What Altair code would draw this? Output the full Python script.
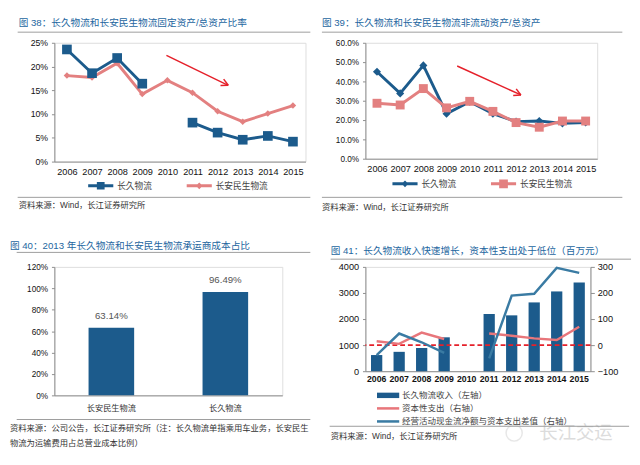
import math
import altair as alt
import pandas as pd

# ---------------- data ----------------
years = ["2006", "2007", "2008", "2009", "2010", "2011", "2012", "2013", "2014", "2015"]

t38 = "图 38：长久物流和长安民生物流固定资产/总资产比率"
f38_cj = [0.236, 0.186, 0.218, 0.164, None, 0.082, 0.061, 0.046, 0.054, 0.042]
f38_ca = [0.181, 0.177, 0.207, 0.142, 0.171, 0.145, 0.106, 0.084, 0.101, 0.118]

t39 = "图 39：长久物流和长安民生物流非流动资产/总资产"
f39_cj = [0.450, 0.338, 0.483, 0.233, 0.295, 0.233, 0.192, 0.195, 0.183, 0.187]
f39_ca = [0.287, 0.278, 0.363, 0.263, 0.297, 0.245, 0.187, 0.163, 0.195, 0.195]

t40 = "图 40：2013 年长久物流和长安民生物流承运商成本占比"
f40_cats = ["长安民生物流", "长久物流"]
f40_vals = [0.6314, 0.9649]

t41 = "图 41：长久物流收入快速增长，资本性支出处于低位（百万元）"
f41_rev = [620, 743, 892, 1300, None, 2192, 2142, 2638, 3059, 3405]
f41_capex = [15, 5, 48, 23.5, None, 44.6, 36, 26, 20, 70.6]
f41_diff = [-38, 44.6, 11, -30, None, -51, 190, 197, 296, 277]

names38 = ["长久物流", "长安民生物流"]
names41 = ["长久物流收入（左轴）", "资本性支出（右轴）", "经营活动现金流净额与资本支出差值（右轴）"]

src = "资料来源：Wind，长江证券研究所"
src40 = ["资料来源：公司公告，长江证券研究所（注：长久物流单指乘用车业务，长安民生",
         "物流为运输费用占总营业成本比例）"]
watermark = "长江交运"

# ---------------- style ----------------
FONT = "Liberation Sans, Noto Sans CJK SC"
BLUE = "#1C5B8C"
PINK = "#E38080"
PINK4 = "#E8767B"
TEAL = "#3A7BA3"
RED = "#E5202A"
TBLUE = "#2466A0"
AX = "#8C8C8C"
SEP = "#9A9A9A"
BW, BH = 312, 222

one = pd.DataFrame({"k": [0]})


def long(vals):
    rows = []
    for y, v in zip(years, vals):
        if v is None:
            continue
        rows.append({"year": y, "value": v, "seg": "a" if int(y) < 2010 else "b"})
    return pd.DataFrame(rows)


def txt(s, x, y, size=8.6, color="#333333", weight="normal", align="left"):
    return alt.Chart(pd.DataFrame({"t": [s]})).mark_text(
        align=align, baseline="middle", fontSize=size, color=color,
        fontWeight=weight, font=FONT).encode(x=alt.value(x), y=alt.value(y), text="t:N")


def seg(x1, y1, x2, y2, color, width=1.0):
    return alt.Chart(one).mark_rule(color=color, strokeWidth=width).encode(
        x=alt.value(x1), x2=alt.value(x2), y=alt.value(y1), y2=alt.value(y2))


def hline(x1, x2, y, color=SEP, width=1.0):
    return seg(x1, y, x2, y, color, width)


def arrow(x1, y1, x2, y2):
    ang = math.atan2(y2 - y1, x2 - x1)
    L, a = 8, math.radians(28)
    hx1, hy1 = x2 - L * math.cos(ang - a), y2 - L * math.sin(ang - a)
    hx2, hy2 = x2 - L * math.cos(ang + a), y2 - L * math.sin(ang + a)
    return [seg(x1, y1, x2, y2, RED, 1.5), seg(hx1, hy1, x2, y2, RED, 1.5),
            seg(hx2, hy2, x2, y2, RED, 1.5)]


def anchor(L, T):
    return alt.Chart(one).mark_rect(opacity=0).encode(
        x=alt.value(-L), x2=alt.value(BW - L), y=alt.value(-T), y2=alt.value(BH - T))


U = 6.0  # legend symbol unit (symbolSize 144)


def p_rect(hw, hh):
    w, h = hw / U, hh / U
    return f"M{-w:.3f},{-h:.3f}L{w:.3f},{-h:.3f}L{w:.3f},{h:.3f}L{-w:.3f},{h:.3f}Z"


def p_diam(h):
    s = h / U
    return f"M0,{-s:.3f}L{s:.3f},0L0,{s:.3f}L{-s:.3f},0Z"


def xaxis(**kw):
    base = dict(title=None, labelAngle=0, ticks=False, tickSize=0, domainColor=AX,
                labelFont=FONT, labelFontSize=9.5, labelColor="#111111",
                labelPadding=5, grid=False)
    base.update(kw)
    return alt.Axis(**base)


def yaxis(**kw):
    base = dict(title=None, grid=False, domainColor=AX, tickColor=AX, tickSize=3,
                labelPadding=4, labelFont=FONT, labelFontSize=9, labelColor="#111111")
    base.update(kw)
    return alt.Axis(**base)


def legend_layer(field, names, colors, shapes, lx, ly, direction, col_pad=0, row_pad=0,
                 label_offset=11, fs=9):
    lg = alt.Legend(title=None, orient="none", legendX=lx, legendY=ly, direction=direction,
                    symbolSize=144, symbolStrokeWidth=0, labelFont=FONT, labelFontSize=fs,
                    labelColor="#444444", labelOffset=label_offset, columnPadding=col_pad,
                    rowPadding=row_pad, padding=0, labelLimit=400)
    df = pd.DataFrame({field: names})
    return alt.Chart(df).transform_filter("false").mark_point(filled=True, opacity=1).encode(
        color=alt.Color(f"{field}:N", scale=alt.Scale(domain=names, range=colors), legend=lg),
        shape=alt.Shape(f"{field}:N", scale=alt.Scale(domain=names, range=shapes), legend=lg))


TW = "normal"  # title weight

# ---------------- panel 1 ----------------
L1, T1 = 38, 27
X1 = alt.X("year:O", scale=alt.Scale(domain=years, padding=0.5), axis=xaxis())
Y1 = alt.Y("value:Q", scale=alt.Scale(domain=[0, 0.25], nice=False),
           axis=yaxis(values=[0, 0.05, 0.10, 0.15, 0.20, 0.25], format=".0%"))
ca1 = alt.Chart(long(f38_ca)).encode(x=X1, y=Y1)
cj1 = alt.Chart(long(f38_cj)).encode(x=X1, y=Y1, detail="seg:N")
leg1 = legend_layer("s1", names38, [BLUE, PINK],
                    [p_rect(13, 1.5) + p_rect(4, 4), p_rect(13, 1.5) + p_diam(3.5)],
                    42, 142, "horizontal", col_pad=34)
p1 = alt.layer(
    anchor(L1, T1),
    ca1.mark_line(color=PINK, strokeWidth=3),
    ca1.mark_point(shape="diamond", filled=True, size=45, color=PINK, opacity=1),
    cj1.mark_line(color=BLUE, strokeWidth=3),
    cj1.mark_square(size=100, color=BLUE, opacity=1),
    leg1,
    txt(t38, -37, -20, size=10, color=TBLUE, weight=TW),
    hline(-38, 265, -11),
    hline(-38, 265, 160),
    txt(src, -37, 168),
    *arrow(116, 13, 180, 44),
).properties(width=260, height=123)

# ---------------- panel 2 ----------------
L2, T2 = 46, 27
X2 = alt.X("year:O", scale=alt.Scale(domain=years, padding=0.5), axis=xaxis(labelFontSize=9.5))
Y2 = alt.Y("value:Q", scale=alt.Scale(domain=[0, 0.6], nice=False),
           axis=yaxis(values=[0, 0.1, 0.2, 0.3, 0.4, 0.5, 0.6], format=".1%", labelFontSize=8.5))
cj2 = alt.Chart(long(f39_cj)).encode(x=X2, y=Y2)
ca2 = alt.Chart(long(f39_ca)).encode(x=X2, y=Y2)
leg2 = legend_layer("s2", names38, [BLUE, PINK],
                    [p_rect(13, 1.5) + p_diam(3.5), p_rect(13, 1.5) + p_rect(4.5, 4.5)],
                    35, 140, "horizontal", col_pad=34)
p2 = alt.layer(
    anchor(L2, T2),
    cj2.mark_line(color=BLUE, strokeWidth=3),
    cj2.mark_point(shape="diamond", filled=True, size=70, color=BLUE, opacity=1),
    ca2.mark_line(color=PINK, strokeWidth=3),
    ca2.mark_square(size=85, color=PINK, opacity=1),
    leg2,
    txt(t39, -45, -20, size=10, color=TBLUE, weight=TW),
    hline(-45, 266, -11),
    hline(-45, 266, 160),
    txt(src, -45, 170),
    *arrow(95, 24, 161, 54),
).properties(width=240, height=120)

# ---------------- panel 3 ----------------
L3, T3 = 47, 35
df40 = pd.DataFrame({"cat": f40_cats, "val": f40_vals})
bars3 = alt.Chart(df40).mark_bar(color=BLUE).encode(
    x=alt.X("cat:N", sort=f40_cats, scale=alt.Scale(paddingInner=0.6, paddingOuter=0.3),
            axis=xaxis(labelFontSize=8.5, labelPadding=9, labelColor="#333333")),
    y=alt.Y("val:Q", scale=alt.Scale(domain=[0, 1.2], nice=False),
            axis=yaxis(values=[0, 0.2, 0.4, 0.6, 0.8, 1.0, 1.2], format=".0%", labelFontSize=8.5)))
lab3 = bars3.mark_text(dy=-12, color="#555555", fontSize=10, font=FONT).encode(
    text=alt.Text("val:Q", format=".2%"))
p3 = alt.layer(
    anchor(L3, T3),
    bars3, lab3,
    txt(t40, -46, -22, size=10, color=TBLUE, weight=TW),
    hline(-39, 265, -15),
    hline(-39, 265, 158),
    txt(src40[0], -46, 167),
    txt(src40[1], -46, 182),
).properties(width=236, height=133)

# ---------------- panel 4 ----------------
L4, T4 = 37, 28
X4 = alt.X("year:O", scale=alt.Scale(domain=years, paddingInner=0.5, paddingOuter=0.25),
           axis=xaxis(labelFontSize=9, labelFontWeight="bold", labelPadding=4))
bars4 = alt.Chart(long(f41_rev)).mark_bar(color=BLUE).encode(
    x=X4,
    y=alt.Y("value:Q", scale=alt.Scale(domain=[0, 4000], nice=False),
            axis=yaxis(values=[0, 1000, 2000, 3000, 4000], format="d", labelFontSize=9.5)))
YR = alt.Y("value:Q", scale=alt.Scale(domain=[-100, 300], nice=False),
           axis=yaxis(orient="right", values=[-100, 0, 100, 200, 300], format="d",
                      tickSize=4, labelPadding=3, labelFontSize=9.5))
zero = alt.Chart(pd.DataFrame({"value": [0]})).mark_rule(
    color=RED, strokeDash=[5, 3], strokeWidth=1.6).encode(y=YR)
capex = alt.Chart(long(f41_capex)).mark_line(color=PINK4, strokeWidth=2.5).encode(
    x=X4, y=YR, detail="seg:N")
diff = alt.Chart(long(f41_diff)).mark_line(color=TEAL, strokeWidth=2.5).encode(
    x=X4, y=YR, detail="seg:N")
right4 = alt.layer(zero, capex, diff)
leg4 = legend_layer("s4", names41, [BLUE, PINK4, TEAL],
                    [p_rect(11.5, 2.8), p_rect(11.5, 1.3), p_rect(11.5, 1.3)],
                    17.5, 127, "vertical", row_pad=2.5, label_offset=8.5, fs=8.8)
wm_icon = alt.Chart(one).mark_point(shape="circle", size=280, color="#dedede",
                                    strokeWidth=1.5).encode(x=alt.value(154), y=alt.value(172))
p4 = alt.layer(
    anchor(L4, T4),
    bars4, right4,
    leg4,
    txt(t41, -36, -16, size=10, color=TBLUE, weight=TW),
    hline(-36, 275, -8),
    wm_icon,
    txt(watermark, 218, 172, size=19, color="#dcdcdc", align="center"),
    hline(-37, 273, 165),
    txt(src, -36, 175),
).resolve_scale(y="independent").properties(width=233, height=108)

chart = alt.concat(p1, p2, p3, p4, columns=2, spacing=0).resolve_scale(
    color="independent", shape="independent").resolve_legend(
    color="independent", shape="independent").properties(padding=0).configure_view(
    stroke=None).configure(font=FONT)

chart.save("out.html", embed_options={"renderer": "svg", "actions": False})
